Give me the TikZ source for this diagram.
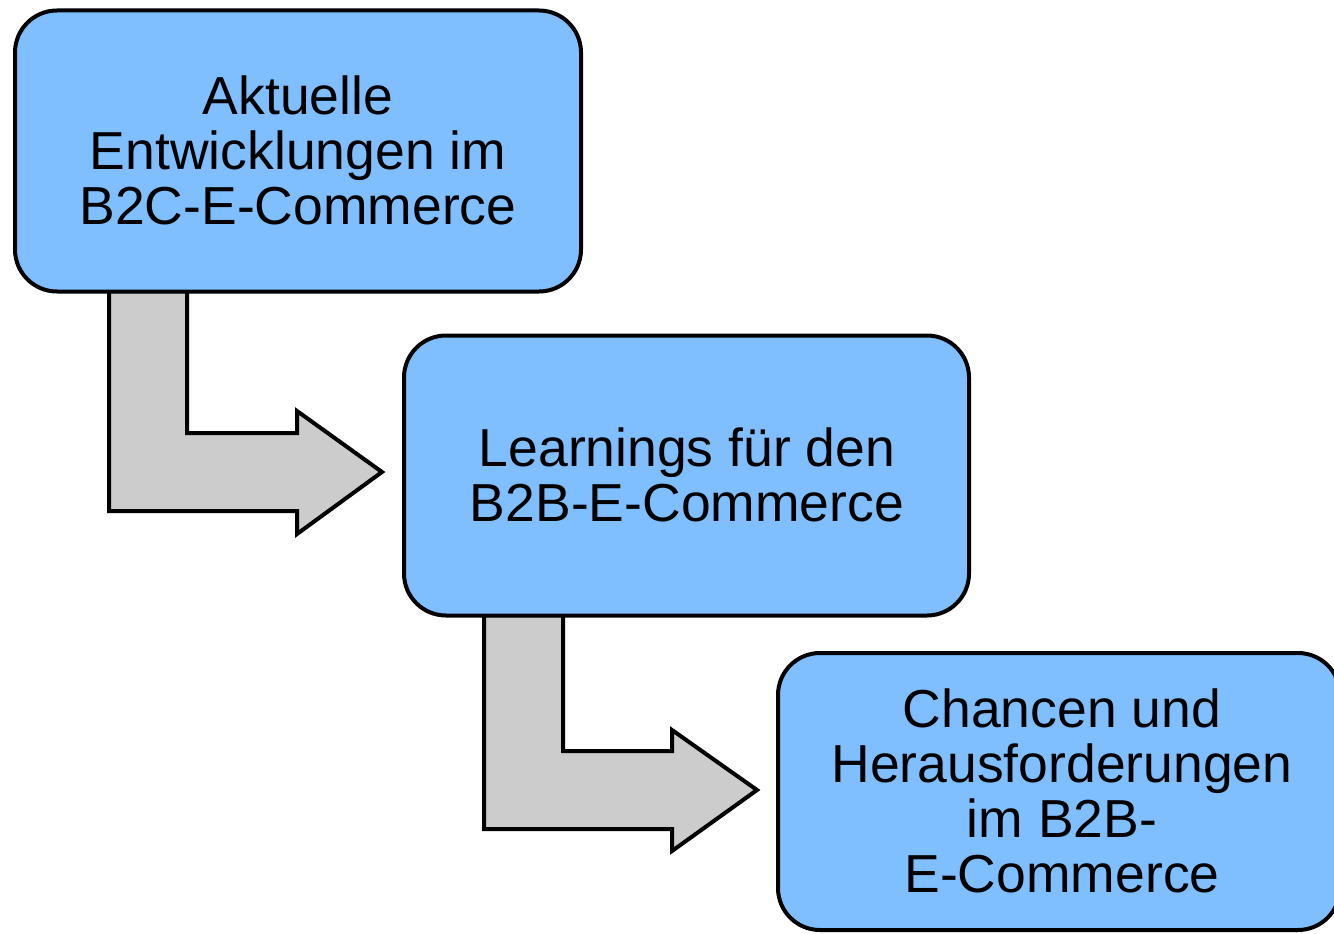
\documentclass[tikz,border=0pt]{standalone}
\usepackage{fontspec}
\setmainfont{Liberation Sans}
\definecolor{boxblue}{RGB}{128,191,255}
\definecolor{arrowgray}{RGB}{204,204,204}
\begin{document}
\begin{tikzpicture}[x=1pt,y=-1pt,
  box/.style={draw=black, line width=4pt, fill=boxblue, rounded corners=42pt,
    inner sep=0pt},
  boxtext/.style={font=\fontsize{53.5}{55}\selectfont, align=center, inner sep=0pt},
  bentarrow/.style={draw=black, line width=4pt, fill=arrowgray, line join=miter}]
\useasboundingbox (0,0) rectangle (1334,934);
% bent arrows (behind boxes)
\coordinate (a1s) at (109,291);
\coordinate (a2s) at (484,615);
\draw[bentarrow] (a1s) -- (109,511) -- (297,511) -- (297,534) -- (382,472) -- (297,411) -- (297,433) -- (187,433) -- (187,291) -- cycle;
\draw[bentarrow] (a2s) -- (484,829) -- (672,829) -- (672,851) -- (757,790) -- (672,730) -- (672,751) -- (563,751) -- (563,615) -- cycle;
% boxes
\node[box, minimum width=566pt, minimum height=281pt] (b1) at (298,151) {};
\node[boxtext] (t1) at (298,150) {Aktuelle\\Entwicklungen im\\B2C-E-Commerce};
\node[box, minimum width=565pt, minimum height=280pt] (b2) at (686.5,475.5) {};
\node[boxtext] (t2) at (687,474.5) {Learnings für den\\B2B-E-Commerce};
\node[box, minimum width=562pt, minimum height=277pt] (b3) at (1059,791.5) {};
\node[boxtext] (t3) at (1062,790.5) {Chancen und\\Herausforderungen\\im B2B-\\E-Commerce};
\end{tikzpicture}
\end{document}
